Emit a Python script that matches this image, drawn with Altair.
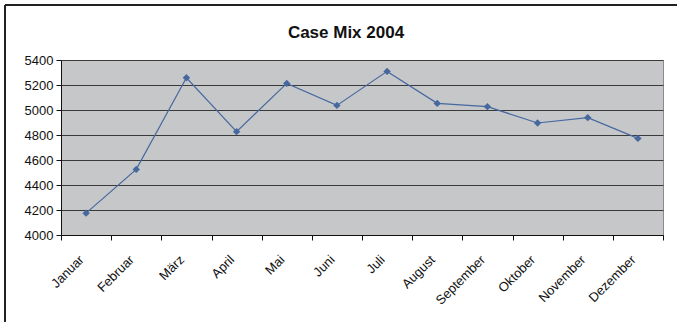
import altair as alt
import pandas as pd

months = ["Januar", "Februar", "März", "April", "Mai", "Juni", "Juli",
          "August", "September", "Oktober", "November", "Dezember"]
case_mix = [4175, 4525, 5258, 4827, 5213, 5037, 5309, 5053, 5027, 4896, 4939, 4773]
y_ticks = [4000, 4200, 4400, 4600, 4800, 5000, 5200, 5400]
title_text = "Case Mix 2004"

df = pd.DataFrame({"Monat": months, "Wert": case_mix})

FONT = "Liberation Sans"
LINE = "#46689f"

x_enc = alt.X("Monat:N", sort=months, title=None,
              scale=alt.Scale(paddingInner=0, paddingOuter=0),
              axis=alt.Axis(labelAngle=-45, labelFontSize=13, labelFont=FONT,
                            labelColor="#111", tickBand="extent", tickSize=5,
                            tickColor="#111", domainColor="#111", labelPadding=13,
                            labelOffset=-9, grid=False))
y_enc = alt.Y("Wert:Q", title=None,
              scale=alt.Scale(domain=[4000, 5400], nice=False, zero=False),
              axis=alt.Axis(values=y_ticks, format="d", labelFontSize=13, labelFont=FONT,
                            labelColor="#111", tickSize=5, tickColor="#111",
                            domainColor="#111", gridColor="#3a3a3a", gridWidth=1,
                            labelPadding=3))

line = alt.Chart(df).mark_line(color=LINE, strokeWidth=1.2).encode(x=x_enc, y=y_enc)
pts = alt.Chart(df).mark_point(shape="diamond", filled=True, color=LINE,
                               size=55, opacity=1).encode(x=x_enc, y=y_enc)

frame_top = alt.Chart(df).mark_rule(color="#222", strokeWidth=1.5).encode(
    x=alt.value(-56), x2=alt.value(620), y=alt.value(-55))
frame_left = alt.Chart(df).mark_rule(color="#222", strokeWidth=1.5).encode(
    x=alt.value(-56), y=alt.value(-55), y2=alt.value(270))

title = alt.Chart(pd.DataFrame({"t": [title_text]})).mark_text(
    font=FONT, fontSize=17, fontWeight="bold", color="#111",
    align="center", baseline="middle").encode(
    x=alt.value(285), y=alt.value(-27), text="t:N")

chart = alt.layer(line, pts, frame_top, frame_left, title).properties(
    width=602, height=175,
    autosize=alt.AutoSizeParams(type="none"),
    padding={"left": 61, "top": 60, "right": 14, "bottom": 87},
).configure(background="white"
).configure_view(fill="#c6c7c9", stroke="#8a8a8a", strokeWidth=1)

chart.save("out.html", embed_options={"renderer": "svg", "actions": False})
